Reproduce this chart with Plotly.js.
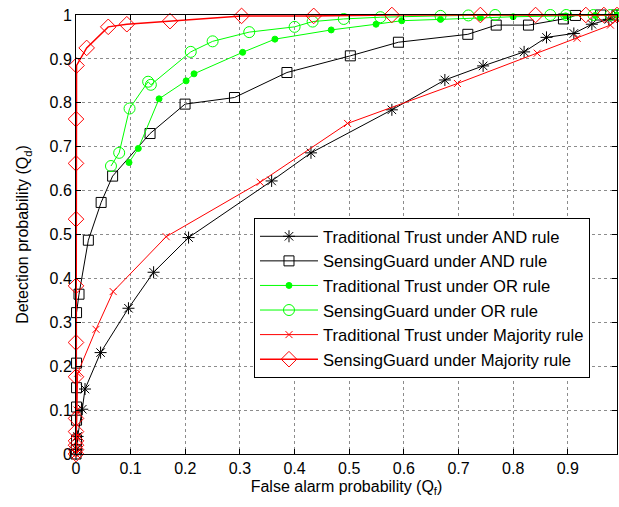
<!DOCTYPE html>
<html>
<head>
<meta charset="utf-8">
<script src="https://cdn.plot.ly/plotly-3.0.1.min.js"></script>
<style>html,body{margin:0;padding:0;background:#fff;}#chart{width:619px;height:507px;}</style>
</head>
<body>
<div id="chart"></div>
<script>
// Traditional Trust under AND rule
const tradAND_x = [0, 0.001, 0.003, 0.0115, 0.0165, 0.045, 0.096, 0.142, 0.206, 0.358, 0.430, 0.578, 0.675, 0.745, 0.820, 0.861, 0.911, 0.944, 0.975, 0.99];
const tradAND_y = [0, 0.01, 0.04, 0.102, 0.148, 0.231, 0.332, 0.414, 0.493, 0.622, 0.686, 0.784, 0.852, 0.884, 0.916, 0.949, 0.958, 0.979, 0.99, 1.0];
// SensingGuard under AND rule
const sgAND_x = [0, 0.0005, 0.001, 0.001, 0.001, 0.001, 0.001, 0.001, 0.0055, 0.0226, 0.046, 0.067, 0.1355, 0.1996, 0.290, 0.386, 0.502, 0.590, 0.717, 0.769, 0.828, 0.892, 0.914, 0.96, 0.99];
const sgAND_y = [0, 0.01, 0.032, 0.077, 0.107, 0.151, 0.207, 0.322, 0.364, 0.487, 0.573, 0.633, 0.730, 0.797, 0.812, 0.869, 0.907, 0.938, 0.956, 0.977, 0.977, 0.991, 0.999, 1, 1];
// Traditional Trust under OR rule
const tradOR_x = [0.097, 0.114, 0.152, 0.2015, 0.216, 0.305, 0.364, 0.467, 0.549, 0.596, 0.667, 0.74, 0.80, 0.896, 0.95, 0.99];
const tradOR_y = [0.664, 0.696, 0.809, 0.850, 0.866, 0.915, 0.945, 0.966, 0.979, 0.987, 0.990, 0.994, 0.996, 0.998, 0.999, 1];
// SensingGuard under OR rule
const sgOR_x = [0.064, 0.079, 0.098, 0.132, 0.137, 0.210, 0.250, 0.317, 0.400, 0.433, 0.490, 0.557, 0.667, 0.718, 0.767, 0.868, 0.897, 0.947, 0.978, 0.99];
const sgOR_y = [0.656, 0.686, 0.787, 0.848, 0.841, 0.916, 0.940, 0.961, 0.973, 0.985, 0.991, 0.995, 0.998, 0.999, 1, 1, 1, 1, 1, 1];
// Traditional Trust under Majority rule
const tradMaj_x = [0, 0.001, 0.002, 0.003, 0.0366, 0.068, 0.165, 0.337, 0.497, 0.698, 0.844, 0.917, 0.978, 0.99];
const tradMaj_y = [0, 0.04, 0.1, 0.184, 0.284, 0.370, 0.495, 0.619, 0.753, 0.844, 0.913, 0.947, 0.977, 0.99];
// SensingGuard under Majority rule
const sgMaj_x = [0, 0, 0, 0, 0, 0, 0, 0, 0, 0, 0, 0, 0.001, 0.0195, 0.059, 0.093, 0.172, 0.303, 0.435, 0.578, 0.74, 0.841, 0.933, 0.966, 0.99];
const sgMaj_y = [0, 0.01, 0.02, 0.03, 0.051, 0.081, 0.176, 0.254, 0.383, 0.535, 0.662, 0.763, 0.885, 0.925, 0.973, 0.979, 0.986, 0.998, 0.998, 1, 1, 1, 1, 1, 1];

const names = ['Traditional Trust under AND rule', 'SensingGuard under AND rule', 'Traditional Trust under OR rule', 'SensingGuard under OR rule', 'Traditional Trust under Majority rule', 'SensingGuard under Majority rule'];
const xTicks = [0, 0.1, 0.2, 0.3, 0.4, 0.5, 0.6, 0.7, 0.8, 0.9];
const yTicks = [0, 0.1, 0.2, 0.3, 0.4, 0.5, 0.6, 0.7, 0.8, 0.9, 1];

const BLACK = '#000000', GREEN = '#00ff00', RED = '#ff0000';
function tr(x, y, name, color, symbol, size, lw) {
  return {
    x: x, y: y, name: name, type: 'scatter', mode: 'lines+markers', cliponaxis: false,
    line: {color: color, width: lw || 1},
    marker: {symbol: symbol, size: size, color: color, line: {color: color, width: 1}}
  };
}
const data = [
  tr(tradAND_x, tradAND_y, names[0], BLACK, 'asterisk-open', 10),
  tr(sgAND_x, sgAND_y, names[1], BLACK, 'square-open', 10),
  tr(tradOR_x, tradOR_y, names[2], GREEN, 'circle', 6),
  tr(sgOR_x, sgOR_y, names[3], GREEN, 'circle-open', 11),
  tr(tradMaj_x, tradMaj_y, names[4], RED, 'x-thin-open', 7),
  tr(sgMaj_x, sgMaj_y, names[5], RED, 'diamond-open', 12, 1.5)
];
const FONT = '"Liberation Sans", Arial, sans-serif';
const axisCommon = {
  showline: true, linecolor: '#000', linewidth: 1, mirror: 'ticks',
  ticks: 'inside', ticklen: 5, tickcolor: '#000',
  showgrid: true, gridcolor: '#8c8c8c', gridwidth: 1, griddash: 'dot',
  zeroline: false, tickfont: {family: FONT, size: 16, color: '#000'}
};
const layout = {
  width: 619, height: 507,
  margin: {l: 76, r: 2, t: 15, b: 53},
  paper_bgcolor: '#fff', plot_bgcolor: '#fff',
  font: {family: FONT, color: '#000'},
  showlegend: true,
  xaxis: Object.assign({}, axisCommon, {
    range: [0, 0.99], tickvals: xTicks, ticktext: xTicks.map(String),
    title: {text: 'False alarm probability (Q<sub>f</sub>)', font: {family: FONT, size: 16, color: '#000'}, standoff: 4}
  }),
  yaxis: Object.assign({}, axisCommon, {
    range: [0, 1], tickvals: yTicks, ticktext: yTicks.map(String),
    title: {text: 'Detection probability (Q<sub>d</sub>)', font: {family: FONT, size: 16, color: '#000'}, standoff: 16}
  }),
  legend: {
    x: 0.329, y: 0.5376, xanchor: 'left', yanchor: 'top',
    bgcolor: '#fff', bordercolor: '#000', borderwidth: 1,
    font: {family: FONT, size: 16.6, color: '#000'},
    itemwidth: 58
  }
};
Plotly.newPlot('chart', data, layout, {displayModeBar: false, staticPlot: true});
</script>
</body>
</html>
